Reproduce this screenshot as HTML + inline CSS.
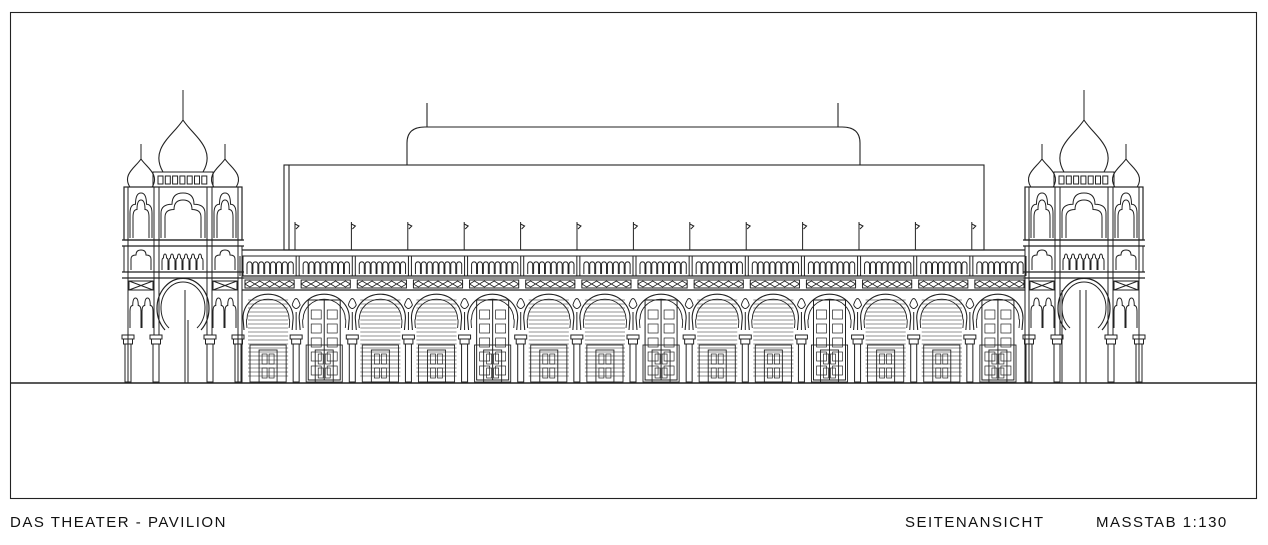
<!DOCTYPE html>
<html><head><meta charset="utf-8">
<style>
html,body{margin:0;padding:0;background:#fff;}
svg{display:block}
text{font-family:"Liberation Sans",sans-serif;font-size:15px;fill:#111;letter-spacing:1.5px}
</style></head>
<body>
<svg id="s" width="1268" height="545" viewBox="0 0 1268 545" xmlns="http://www.w3.org/2000/svg">
<g id="g" fill="none" stroke="#222" stroke-width="1.1">
<rect x="10.5" y="12.5" width="1246" height="486"/>
<line x1="10" y1="383" x2="1257" y2="383" stroke-width="1.6"/>
<rect x="284" y="165" width="700" height="85"/>
<line x1="289" y1="165" x2="289" y2="250"/>
<path d="M407,165 L407,143 Q407,127 425,127 L842,127 Q860,127 860,143 L860,165"/>
<line x1="427" y1="103" x2="427" y2="127"/>
<line x1="838" y1="103" x2="838" y2="127"/>
</g>
<text x="10" y="527">DAS THEATER - PAVILION</text>
<text x="905" y="527">SEITENANSICHT</text>
<text x="1096" y="527">MASSTAB 1:130</text>
</svg>
<script>
var g=document.getElementById('g'),NS='http://www.w3.org/2000/svg';
function el(t,a){var e=document.createElementNS(NS,t);for(var k in a)e.setAttribute(k,a[k]);g.appendChild(e);return e;}
function L(a,b,c,d,w){el('line',{x1:a,y1:b,x2:c,y2:d,'stroke-width':w||1});}
function R(x,y,w,h,sw){el('rect',{x:x,y:y,width:w,height:h,'stroke-width':sw||1});}
function P(d,sw){el('path',{d:d,'stroke-width':sw||1});}
function dome(cx,b,w,h,sp){
 var r=w/2;
 P('M'+(cx-r*0.8)+','+b+' C'+(cx-r*1.35)+','+(b-h*0.45)+' '+(cx-r*0.4)+','+(b-h*0.7)+' '+cx+','+(b-h)+' C'+(cx+r*0.4)+','+(b-h*0.7)+' '+(cx+r*1.35)+','+(b-h*0.45)+' '+(cx+r*0.8)+','+b+' Z',1.1);
 L(cx,b-h,cx,b-h-sp,1);
}
function column(x){R(x-6,335,12,4);R(x-4.5,339,9,5);R(x-3,344,6,38);}
function ogee(x,y,w,h){
 var r=w/2;
 P('M'+x+','+(y+h)+' L'+x+','+(y+h*0.45)+' Q'+x+','+(y+h*0.25)+' '+(x+r*0.5)+','+(y+h*0.25)+' Q'+(x+r*0.5)+','+y+' '+(x+r)+','+y+' Q'+(x+w-r*0.5)+','+y+' '+(x+w-r*0.5)+','+(y+h*0.25)+' Q'+(x+w)+','+(y+h*0.25)+' '+(x+w)+','+(y+h*0.45)+' L'+(x+w)+','+(y+h));
}
function tower(x0){
 var cx=x0+59;
 dome(cx,172,50,52,30);
 dome(x0+17,187,28,28,15);dome(x0+101,187,28,28,15);
 R(cx-30,172,60,15);
 for(var i=0;i<7;i++)R(cx-25+i*7.3,176,5,8);
 R(x0,187,118,53,1.2);
 L(x0-2,240,x0+120,240,1.3);L(x0-2,246,x0+120,246,1.3);
 L(x0+4,187,x0+4,383);L(x0+114,187,x0+114,383);
 L(x0+30,187,x0+30,335);L(x0+35,187,x0+35,335);L(x0+83,187,x0+83,335);L(x0+88,187,x0+88,335);
 ogee(x0+6,193,22,45);ogee(x0+9,200,16,38);
 ogee(x0+90,193,22,45);ogee(x0+93,200,16,38);
 ogee(x0+37,193,44,45);ogee(x0+41,200,36,38);
 R(x0,246,118,26);L(x0-2,272,x0+120,272,1.3);L(x0-2,278,x0+120,278,1.3);
 ogee(x0+7,250,20,20);ogee(x0+91,250,20,20);
 for(var i=0;i<6;i++){ogee(x0+38+i*7,254,6,16);}
 R(x0+5,281,24,9);P('M'+(x0+5)+',281 L'+(x0+29)+',290 M'+(x0+29)+',281 L'+(x0+5)+',290');
 R(x0+89,281,24,9);P('M'+(x0+89)+',281 L'+(x0+113)+',290 M'+(x0+113)+',281 L'+(x0+89)+',290');
 P('M'+(cx-18)+',330 A26,30 0 1 1 '+(cx+18)+',330',1.2);
 P('M'+(cx-14)+',328 A22,26 0 1 1 '+(cx+14)+',328',1);
 ogee(x0+6,298,11,30);ogee(x0+18,298,11,30);ogee(x0+89,298,11,30);ogee(x0+101,298,11,30);
 column(x0+4);column(x0+32);column(x0+86);column(x0+114);
 L(cx+2,290,cx+2,383);
}
tower(124);tower(1025);
var N=15,sp=(1026-240)/14;var cols=[];for(var i=0;i<N;i++)cols.push(240+i*sp);
L(242,250,1025,250,1.3);L(242,256,1025,256);L(242,276,1025,276,1.3);L(242,278,1025,278);L(242,290,1025,290,1.2);
for(var i=0;i<N;i++){var x=cols[i];L(x,256,x,276);L(x+3,256,x+3,276);}
for(var i=0;i<N-1;i++){var a=cols[i]+5,b=cols[i+1]-2;
 for(var k=0;k<8;k++){var wx=a+2+k*(b-a-2)/8;P('M'+wx+',274 L'+wx+',264 A2.6,3 0 0 1 '+(wx+5)+',264 L'+(wx+5)+',274');}
 R(a,280,b-a,8);
 var n=5;for(var k=0;k<n;k++){var sx=a+k*(b-a)/n,ex=a+(k+1)*(b-a)/n;P('M'+sx+',284 L'+(sx+ex)/2+',281 L'+ex+',284 L'+(sx+ex)/2+',287 Z',0.8);}
}
for(var i=0;i<13;i++){var x=295+i*56.4;L(x,222,x,250);P('M'+x+',224 l4,2 l-3,3');}
for(var i=0;i<N-1;i++){var a=cols[i],b=cols[i+1],m=(a+b)/2,r=(b-a)/2-3;
 P('M'+(a+4)+',330 Q'+(a+3)+',318 '+(m-r)+',318 A'+r+','+(r*0.95)+' 0 0 1 '+(m+r)+',318 Q'+(b-3)+',318 '+(b-4)+',330',1.1);
 P('M'+(a+7)+',328 Q'+(a+6)+',319 '+(m-r+4)+',319 A'+(r-4)+','+(r*0.95-4)+' 0 0 1 '+(m+r-4)+',319 Q'+(b-6)+',319 '+(b-7)+',328',0.9);
 if(i%3!=1){for(var y=300;y<380;y+=4)L(a+8,y,b-8,y,0.6);}
 else{R(m-16,300,32,80);L(m,300,m,380);for(var y=310;y<380;y+=14){R(m-13,y,10,9,0.7);R(m+3,y,10,9,0.7);}}
 R(a+10,345,b-a-20,37,0.9);
 R(m-9,350,18,32,0.9);R(m-6,354,5,10,0.7);R(m+1,354,5,10,0.7);R(m-6,368,5,10,0.7);R(m+1,368,5,10,0.7);
}
for(var i=1;i<N-1;i++){var x=cols[i];
 P('M'+(x-4)+',305 Q'+x+',292 '+(x+4)+',305 Q'+x+',312 '+(x-4)+',305',0.9);
 L(x,312,x,330);column(x);}
L(242,250,242,383);L(1025,250,1025,383);
L(188,320,188,383);L(1062,290,1062,383);L(1080,290,1080,383);
</script>
</body></html>
